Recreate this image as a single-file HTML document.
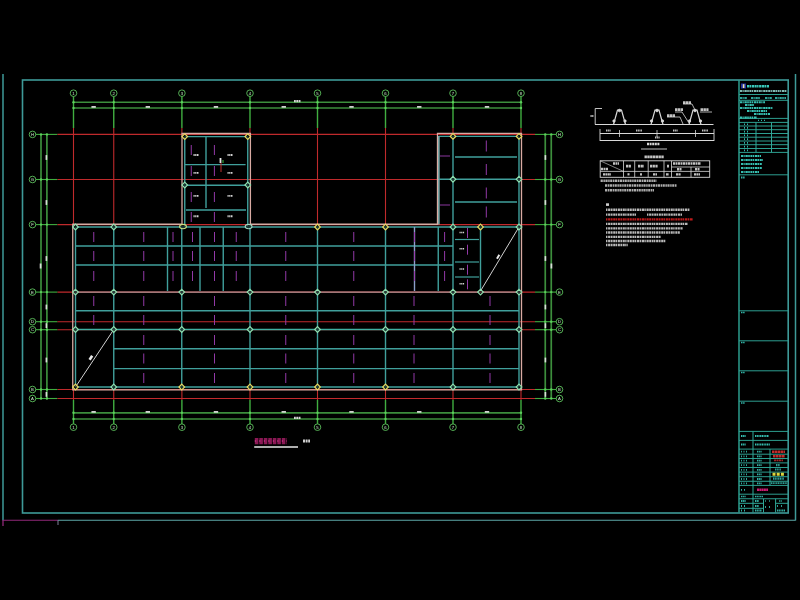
<!DOCTYPE html><html><head><meta charset="utf-8"><style>html,body{margin:0;padding:0;background:#000;width:800px;height:600px;overflow:hidden}svg{display:block;filter:blur(0.6px);font-family:"Liberation Sans",sans-serif}</style></head><body>
<svg width="800" height="600" viewBox="0 0 800 600">
<rect x="0" y="0" width="800" height="600" fill="#000"/>
<line x1="3" y1="74" x2="3" y2="520.5" stroke="#3e9a98" stroke-width="1.5" />
<line x1="795.5" y1="74" x2="795.5" y2="520.5" stroke="#3e9a98" stroke-width="1.5" />
<line x1="3" y1="520.3" x2="58" y2="520.3" stroke="#902878" stroke-width="1.1" />
<line x1="58" y1="520.3" x2="795.5" y2="520.3" stroke="#5ea8a8" stroke-width="1.1" />
<line x1="58" y1="520.3" x2="58" y2="525" stroke="#a0a0c0" stroke-width="0.8" />
<line x1="3" y1="520" x2="3" y2="526" stroke="#902878" stroke-width="1.3" />
<rect x="22.5" y="80" width="765.7" height="433" stroke="#3e9a98" stroke-width="1.6" fill="none"/>
<line x1="73.5" y1="96.5" x2="73.5" y2="128" stroke="#40ae40" stroke-width="1.4" />
<line x1="73.5" y1="128" x2="73.5" y2="224.25" stroke="#c02a2c" stroke-width="1.1" />
<line x1="73.5" y1="389.5" x2="73.5" y2="400" stroke="#c02a2c" stroke-width="1.1" />
<line x1="73.5" y1="400" x2="73.5" y2="423.9" stroke="#40ae40" stroke-width="1.4" />
<circle cx="73.5" cy="93.2" r="3.3" stroke="#5cc05c" stroke-width="0.9" fill="none"/>
<circle cx="73.5" cy="427.2" r="3.3" stroke="#5cc05c" stroke-width="0.9" fill="none"/>
<text x="73.5" y="94.7" fill="#d0f0d0" font-size="4.2" text-anchor="middle" >1</text>
<text x="73.5" y="428.7" fill="#d0f0d0" font-size="4.2" text-anchor="middle" >1</text>
<line x1="113.75" y1="96.5" x2="113.75" y2="128" stroke="#40ae40" stroke-width="1.4" />
<line x1="113.75" y1="128" x2="113.75" y2="224.25" stroke="#c02a2c" stroke-width="1.1" />
<line x1="113.75" y1="389.5" x2="113.75" y2="400" stroke="#c02a2c" stroke-width="1.1" />
<line x1="113.75" y1="400" x2="113.75" y2="423.9" stroke="#40ae40" stroke-width="1.4" />
<circle cx="113.75" cy="93.2" r="3.3" stroke="#5cc05c" stroke-width="0.9" fill="none"/>
<circle cx="113.75" cy="427.2" r="3.3" stroke="#5cc05c" stroke-width="0.9" fill="none"/>
<text x="113.75" y="94.7" fill="#d0f0d0" font-size="4.2" text-anchor="middle" >2</text>
<text x="113.75" y="428.7" fill="#d0f0d0" font-size="4.2" text-anchor="middle" >2</text>
<line x1="181.9" y1="96.5" x2="181.9" y2="128" stroke="#40ae40" stroke-width="1.4" />
<line x1="181.9" y1="128" x2="181.9" y2="133.5" stroke="#c02a2c" stroke-width="1.1" />
<line x1="181.9" y1="389.5" x2="181.9" y2="400" stroke="#c02a2c" stroke-width="1.1" />
<line x1="181.9" y1="400" x2="181.9" y2="423.9" stroke="#40ae40" stroke-width="1.4" />
<circle cx="181.9" cy="93.2" r="3.3" stroke="#5cc05c" stroke-width="0.9" fill="none"/>
<circle cx="181.9" cy="427.2" r="3.3" stroke="#5cc05c" stroke-width="0.9" fill="none"/>
<text x="181.9" y="94.7" fill="#d0f0d0" font-size="4.2" text-anchor="middle" >3</text>
<text x="181.9" y="428.7" fill="#d0f0d0" font-size="4.2" text-anchor="middle" >3</text>
<line x1="250" y1="96.5" x2="250" y2="128" stroke="#40ae40" stroke-width="1.4" />
<line x1="250" y1="128" x2="250" y2="133.5" stroke="#c02a2c" stroke-width="1.1" />
<line x1="250" y1="389.5" x2="250" y2="400" stroke="#c02a2c" stroke-width="1.1" />
<line x1="250" y1="400" x2="250" y2="423.9" stroke="#40ae40" stroke-width="1.4" />
<circle cx="250" cy="93.2" r="3.3" stroke="#5cc05c" stroke-width="0.9" fill="none"/>
<circle cx="250" cy="427.2" r="3.3" stroke="#5cc05c" stroke-width="0.9" fill="none"/>
<text x="250" y="94.7" fill="#d0f0d0" font-size="4.2" text-anchor="middle" >4</text>
<text x="250" y="428.7" fill="#d0f0d0" font-size="4.2" text-anchor="middle" >4</text>
<line x1="317.5" y1="96.5" x2="317.5" y2="128" stroke="#40ae40" stroke-width="1.4" />
<line x1="317.5" y1="128" x2="317.5" y2="224.25" stroke="#c02a2c" stroke-width="1.1" />
<line x1="317.5" y1="389.5" x2="317.5" y2="400" stroke="#c02a2c" stroke-width="1.1" />
<line x1="317.5" y1="400" x2="317.5" y2="423.9" stroke="#40ae40" stroke-width="1.4" />
<circle cx="317.5" cy="93.2" r="3.3" stroke="#5cc05c" stroke-width="0.9" fill="none"/>
<circle cx="317.5" cy="427.2" r="3.3" stroke="#5cc05c" stroke-width="0.9" fill="none"/>
<text x="317.5" y="94.7" fill="#d0f0d0" font-size="4.2" text-anchor="middle" >5</text>
<text x="317.5" y="428.7" fill="#d0f0d0" font-size="4.2" text-anchor="middle" >5</text>
<line x1="385.5" y1="96.5" x2="385.5" y2="128" stroke="#40ae40" stroke-width="1.4" />
<line x1="385.5" y1="128" x2="385.5" y2="224.25" stroke="#c02a2c" stroke-width="1.1" />
<line x1="385.5" y1="389.5" x2="385.5" y2="400" stroke="#c02a2c" stroke-width="1.1" />
<line x1="385.5" y1="400" x2="385.5" y2="423.9" stroke="#40ae40" stroke-width="1.4" />
<circle cx="385.5" cy="93.2" r="3.3" stroke="#5cc05c" stroke-width="0.9" fill="none"/>
<circle cx="385.5" cy="427.2" r="3.3" stroke="#5cc05c" stroke-width="0.9" fill="none"/>
<text x="385.5" y="94.7" fill="#d0f0d0" font-size="4.2" text-anchor="middle" >6</text>
<text x="385.5" y="428.7" fill="#d0f0d0" font-size="4.2" text-anchor="middle" >6</text>
<line x1="453" y1="96.5" x2="453" y2="128" stroke="#40ae40" stroke-width="1.4" />
<line x1="453" y1="128" x2="453" y2="133.5" stroke="#c02a2c" stroke-width="1.1" />
<line x1="453" y1="389.5" x2="453" y2="400" stroke="#c02a2c" stroke-width="1.1" />
<line x1="453" y1="400" x2="453" y2="423.9" stroke="#40ae40" stroke-width="1.4" />
<circle cx="453" cy="93.2" r="3.3" stroke="#5cc05c" stroke-width="0.9" fill="none"/>
<circle cx="453" cy="427.2" r="3.3" stroke="#5cc05c" stroke-width="0.9" fill="none"/>
<text x="453" y="94.7" fill="#d0f0d0" font-size="4.2" text-anchor="middle" >7</text>
<text x="453" y="428.7" fill="#d0f0d0" font-size="4.2" text-anchor="middle" >7</text>
<line x1="521" y1="96.5" x2="521" y2="128" stroke="#40ae40" stroke-width="1.4" />
<line x1="521" y1="128" x2="521" y2="133.5" stroke="#c02a2c" stroke-width="1.1" />
<line x1="521" y1="389.5" x2="521" y2="400" stroke="#c02a2c" stroke-width="1.1" />
<line x1="521" y1="400" x2="521" y2="423.9" stroke="#40ae40" stroke-width="1.4" />
<circle cx="521" cy="93.2" r="3.3" stroke="#5cc05c" stroke-width="0.9" fill="none"/>
<circle cx="521" cy="427.2" r="3.3" stroke="#5cc05c" stroke-width="0.9" fill="none"/>
<text x="521" y="94.7" fill="#d0f0d0" font-size="4.2" text-anchor="middle" >8</text>
<text x="521" y="428.7" fill="#d0f0d0" font-size="4.2" text-anchor="middle" >8</text>
<line x1="35.8" y1="134.4" x2="57.5" y2="134.4" stroke="#40ae40" stroke-width="1.1" />
<line x1="57.5" y1="134.4" x2="535" y2="134.4" stroke="#c02a2c" stroke-width="1.1" />
<line x1="535" y1="134.4" x2="556.2" y2="134.4" stroke="#40ae40" stroke-width="1.1" />
<circle cx="32.5" cy="134.4" r="3.3" stroke="#5cc05c" stroke-width="0.9" fill="none"/>
<circle cx="559.5" cy="134.4" r="3.3" stroke="#5cc05c" stroke-width="0.9" fill="none"/>
<text x="32.5" y="135.9" fill="#d0f0d0" font-size="4.2" text-anchor="middle" >H</text>
<text x="559.5" y="135.9" fill="#d0f0d0" font-size="4.2" text-anchor="middle" >H</text>
<line x1="35.8" y1="179.5" x2="57.5" y2="179.5" stroke="#40ae40" stroke-width="1.1" />
<line x1="57.5" y1="179.5" x2="535" y2="179.5" stroke="#c02a2c" stroke-width="1.1" />
<line x1="535" y1="179.5" x2="556.2" y2="179.5" stroke="#40ae40" stroke-width="1.1" />
<circle cx="32.5" cy="179.5" r="3.3" stroke="#5cc05c" stroke-width="0.9" fill="none"/>
<circle cx="559.5" cy="179.5" r="3.3" stroke="#5cc05c" stroke-width="0.9" fill="none"/>
<text x="32.5" y="181.0" fill="#d0f0d0" font-size="4.2" text-anchor="middle" >G</text>
<text x="559.5" y="181.0" fill="#d0f0d0" font-size="4.2" text-anchor="middle" >G</text>
<line x1="35.8" y1="224.6" x2="57.5" y2="224.6" stroke="#40ae40" stroke-width="1.1" />
<line x1="57.5" y1="224.6" x2="535" y2="224.6" stroke="#c02a2c" stroke-width="1.1" />
<line x1="535" y1="224.6" x2="556.2" y2="224.6" stroke="#40ae40" stroke-width="1.1" />
<circle cx="32.5" cy="224.6" r="3.3" stroke="#5cc05c" stroke-width="0.9" fill="none"/>
<circle cx="559.5" cy="224.6" r="3.3" stroke="#5cc05c" stroke-width="0.9" fill="none"/>
<text x="32.5" y="226.1" fill="#d0f0d0" font-size="4.2" text-anchor="middle" >F</text>
<text x="559.5" y="226.1" fill="#d0f0d0" font-size="4.2" text-anchor="middle" >F</text>
<line x1="35.8" y1="292.1" x2="57.5" y2="292.1" stroke="#40ae40" stroke-width="1.1" />
<line x1="57.5" y1="292.1" x2="535" y2="292.1" stroke="#c02a2c" stroke-width="1.1" />
<line x1="535" y1="292.1" x2="556.2" y2="292.1" stroke="#40ae40" stroke-width="1.1" />
<circle cx="32.5" cy="292.1" r="3.3" stroke="#5cc05c" stroke-width="0.9" fill="none"/>
<circle cx="559.5" cy="292.1" r="3.3" stroke="#5cc05c" stroke-width="0.9" fill="none"/>
<text x="32.5" y="293.6" fill="#d0f0d0" font-size="4.2" text-anchor="middle" >E</text>
<text x="559.5" y="293.6" fill="#d0f0d0" font-size="4.2" text-anchor="middle" >E</text>
<line x1="35.8" y1="321.7" x2="57.5" y2="321.7" stroke="#40ae40" stroke-width="1.1" />
<line x1="57.5" y1="321.7" x2="535" y2="321.7" stroke="#c02a2c" stroke-width="1.1" />
<line x1="535" y1="321.7" x2="556.2" y2="321.7" stroke="#40ae40" stroke-width="1.1" />
<circle cx="32.5" cy="321.7" r="3.3" stroke="#5cc05c" stroke-width="0.9" fill="none"/>
<circle cx="559.5" cy="321.7" r="3.3" stroke="#5cc05c" stroke-width="0.9" fill="none"/>
<text x="32.5" y="323.2" fill="#d0f0d0" font-size="4.2" text-anchor="middle" >D</text>
<text x="559.5" y="323.2" fill="#d0f0d0" font-size="4.2" text-anchor="middle" >D</text>
<line x1="35.8" y1="329.7" x2="57.5" y2="329.7" stroke="#40ae40" stroke-width="1.1" />
<line x1="57.5" y1="329.7" x2="535" y2="329.7" stroke="#c02a2c" stroke-width="1.1" />
<line x1="535" y1="329.7" x2="556.2" y2="329.7" stroke="#40ae40" stroke-width="1.1" />
<circle cx="32.5" cy="329.7" r="3.3" stroke="#5cc05c" stroke-width="0.9" fill="none"/>
<circle cx="559.5" cy="329.7" r="3.3" stroke="#5cc05c" stroke-width="0.9" fill="none"/>
<text x="32.5" y="331.2" fill="#d0f0d0" font-size="4.2" text-anchor="middle" >C</text>
<text x="559.5" y="331.2" fill="#d0f0d0" font-size="4.2" text-anchor="middle" >C</text>
<line x1="35.8" y1="389.5" x2="57.5" y2="389.5" stroke="#40ae40" stroke-width="1.1" />
<line x1="57.5" y1="389.5" x2="535" y2="389.5" stroke="#c02a2c" stroke-width="1.1" />
<line x1="535" y1="389.5" x2="556.2" y2="389.5" stroke="#40ae40" stroke-width="1.1" />
<circle cx="32.5" cy="389.5" r="3.3" stroke="#5cc05c" stroke-width="0.9" fill="none"/>
<circle cx="559.5" cy="389.5" r="3.3" stroke="#5cc05c" stroke-width="0.9" fill="none"/>
<text x="32.5" y="391.0" fill="#d0f0d0" font-size="4.2" text-anchor="middle" >B</text>
<text x="559.5" y="391.0" fill="#d0f0d0" font-size="4.2" text-anchor="middle" >B</text>
<line x1="35.8" y1="398.5" x2="57.5" y2="398.5" stroke="#40ae40" stroke-width="1.1" />
<line x1="57.5" y1="398.5" x2="535" y2="398.5" stroke="#c02a2c" stroke-width="1.1" />
<line x1="535" y1="398.5" x2="556.2" y2="398.5" stroke="#40ae40" stroke-width="1.1" />
<circle cx="32.5" cy="398.5" r="3.3" stroke="#5cc05c" stroke-width="0.9" fill="none"/>
<circle cx="559.5" cy="398.5" r="3.3" stroke="#5cc05c" stroke-width="0.9" fill="none"/>
<text x="32.5" y="400.0" fill="#d0f0d0" font-size="4.2" text-anchor="middle" >A</text>
<text x="559.5" y="400.0" fill="#d0f0d0" font-size="4.2" text-anchor="middle" >A</text>
<line x1="73.5" y1="102.25" x2="521" y2="102.25" stroke="#3c8e3c" stroke-width="1.7" />
<line x1="73.5" y1="108" x2="521" y2="108" stroke="#3c8e3c" stroke-width="1.7" />
<line x1="73.5" y1="412.8" x2="521" y2="412.8" stroke="#3c8e3c" stroke-width="1.7" />
<line x1="73.5" y1="419" x2="521" y2="419" stroke="#3c8e3c" stroke-width="1.7" />
<line x1="41" y1="134.4" x2="41" y2="398.5" stroke="#3c8e3c" stroke-width="1.7" />
<line x1="46.9" y1="134.4" x2="46.9" y2="398.5" stroke="#3c8e3c" stroke-width="1.7" />
<line x1="545.25" y1="134.4" x2="545.25" y2="398.5" stroke="#3c8e3c" stroke-width="1.7" />
<line x1="551.25" y1="134.4" x2="551.25" y2="398.5" stroke="#3c8e3c" stroke-width="1.7" />
<circle cx="73.5" cy="102.25" r="1.2" fill="#5cd05c"/>
<circle cx="73.5" cy="108" r="1.2" fill="#5cd05c"/>
<circle cx="73.5" cy="412.8" r="1.2" fill="#5cd05c"/>
<circle cx="73.5" cy="419" r="1.2" fill="#5cd05c"/>
<circle cx="113.75" cy="102.25" r="1.2" fill="#5cd05c"/>
<circle cx="113.75" cy="108" r="1.2" fill="#5cd05c"/>
<circle cx="113.75" cy="412.8" r="1.2" fill="#5cd05c"/>
<circle cx="113.75" cy="419" r="1.2" fill="#5cd05c"/>
<circle cx="181.9" cy="102.25" r="1.2" fill="#5cd05c"/>
<circle cx="181.9" cy="108" r="1.2" fill="#5cd05c"/>
<circle cx="181.9" cy="412.8" r="1.2" fill="#5cd05c"/>
<circle cx="181.9" cy="419" r="1.2" fill="#5cd05c"/>
<circle cx="250" cy="102.25" r="1.2" fill="#5cd05c"/>
<circle cx="250" cy="108" r="1.2" fill="#5cd05c"/>
<circle cx="250" cy="412.8" r="1.2" fill="#5cd05c"/>
<circle cx="250" cy="419" r="1.2" fill="#5cd05c"/>
<circle cx="317.5" cy="102.25" r="1.2" fill="#5cd05c"/>
<circle cx="317.5" cy="108" r="1.2" fill="#5cd05c"/>
<circle cx="317.5" cy="412.8" r="1.2" fill="#5cd05c"/>
<circle cx="317.5" cy="419" r="1.2" fill="#5cd05c"/>
<circle cx="385.5" cy="102.25" r="1.2" fill="#5cd05c"/>
<circle cx="385.5" cy="108" r="1.2" fill="#5cd05c"/>
<circle cx="385.5" cy="412.8" r="1.2" fill="#5cd05c"/>
<circle cx="385.5" cy="419" r="1.2" fill="#5cd05c"/>
<circle cx="453" cy="102.25" r="1.2" fill="#5cd05c"/>
<circle cx="453" cy="108" r="1.2" fill="#5cd05c"/>
<circle cx="453" cy="412.8" r="1.2" fill="#5cd05c"/>
<circle cx="453" cy="419" r="1.2" fill="#5cd05c"/>
<circle cx="521" cy="102.25" r="1.2" fill="#5cd05c"/>
<circle cx="521" cy="108" r="1.2" fill="#5cd05c"/>
<circle cx="521" cy="412.8" r="1.2" fill="#5cd05c"/>
<circle cx="521" cy="419" r="1.2" fill="#5cd05c"/>
<circle cx="41" cy="134.4" r="1.2" fill="#5cd05c"/>
<circle cx="46.9" cy="134.4" r="1.2" fill="#5cd05c"/>
<circle cx="545.25" cy="134.4" r="1.2" fill="#5cd05c"/>
<circle cx="551.25" cy="134.4" r="1.2" fill="#5cd05c"/>
<circle cx="41" cy="179.5" r="1.2" fill="#5cd05c"/>
<circle cx="46.9" cy="179.5" r="1.2" fill="#5cd05c"/>
<circle cx="545.25" cy="179.5" r="1.2" fill="#5cd05c"/>
<circle cx="551.25" cy="179.5" r="1.2" fill="#5cd05c"/>
<circle cx="41" cy="224.6" r="1.2" fill="#5cd05c"/>
<circle cx="46.9" cy="224.6" r="1.2" fill="#5cd05c"/>
<circle cx="545.25" cy="224.6" r="1.2" fill="#5cd05c"/>
<circle cx="551.25" cy="224.6" r="1.2" fill="#5cd05c"/>
<circle cx="41" cy="292.1" r="1.2" fill="#5cd05c"/>
<circle cx="46.9" cy="292.1" r="1.2" fill="#5cd05c"/>
<circle cx="545.25" cy="292.1" r="1.2" fill="#5cd05c"/>
<circle cx="551.25" cy="292.1" r="1.2" fill="#5cd05c"/>
<circle cx="41" cy="321.7" r="1.2" fill="#5cd05c"/>
<circle cx="46.9" cy="321.7" r="1.2" fill="#5cd05c"/>
<circle cx="545.25" cy="321.7" r="1.2" fill="#5cd05c"/>
<circle cx="551.25" cy="321.7" r="1.2" fill="#5cd05c"/>
<circle cx="41" cy="329.7" r="1.2" fill="#5cd05c"/>
<circle cx="46.9" cy="329.7" r="1.2" fill="#5cd05c"/>
<circle cx="545.25" cy="329.7" r="1.2" fill="#5cd05c"/>
<circle cx="551.25" cy="329.7" r="1.2" fill="#5cd05c"/>
<circle cx="41" cy="389.5" r="1.2" fill="#5cd05c"/>
<circle cx="46.9" cy="389.5" r="1.2" fill="#5cd05c"/>
<circle cx="545.25" cy="389.5" r="1.2" fill="#5cd05c"/>
<circle cx="551.25" cy="389.5" r="1.2" fill="#5cd05c"/>
<circle cx="41" cy="398.5" r="1.2" fill="#5cd05c"/>
<circle cx="46.9" cy="398.5" r="1.2" fill="#5cd05c"/>
<circle cx="545.25" cy="398.5" r="1.2" fill="#5cd05c"/>
<circle cx="551.25" cy="398.5" r="1.2" fill="#5cd05c"/>
<polygon points="72.75,224.25 182,224.25 182,133.5 250.4,133.5 250.4,224.25 437.5,224.25 437.5,133.4 521.5,133.4 521.5,389.9 72.75,389.9" fill="none" stroke="#d8aaa2" stroke-width="1.3"/>
<line x1="75.5" y1="227" x2="519" y2="227" stroke="#40a09c" stroke-width="1.4" />
<line x1="75.5" y1="246" x2="453" y2="246" stroke="#40a09c" stroke-width="1.4" />
<line x1="75.5" y1="265" x2="453" y2="265" stroke="#40a09c" stroke-width="1.4" />
<line x1="75.5" y1="292.1" x2="519" y2="292.1" stroke="#a89494" stroke-width="1.3" />
<line x1="75.5" y1="310.75" x2="519" y2="310.75" stroke="#40a09c" stroke-width="1.4" />
<line x1="75.5" y1="329.5" x2="519" y2="329.5" stroke="#40b0a0" stroke-width="1.4" />
<line x1="113.75" y1="348.75" x2="519" y2="348.75" stroke="#40a09c" stroke-width="1.4" />
<line x1="113.75" y1="368.6" x2="519" y2="368.6" stroke="#40a09c" stroke-width="1.4" />
<line x1="75.5" y1="387" x2="519" y2="387" stroke="#40a09c" stroke-width="1.4" />
<line x1="455" y1="239.5" x2="479" y2="239.5" stroke="#40a09c" stroke-width="1.2" />
<line x1="455" y1="262" x2="479" y2="262" stroke="#40a09c" stroke-width="1.2" />
<line x1="455" y1="277" x2="479" y2="277" stroke="#40a09c" stroke-width="1.2" />
<line x1="75.5" y1="227" x2="75.5" y2="387" stroke="#40a09c" stroke-width="1.4" />
<line x1="113.75" y1="227" x2="113.75" y2="387" stroke="#40a09c" stroke-width="1.4" />
<line x1="167.5" y1="227" x2="167.5" y2="291" stroke="#40a09c" stroke-width="1.4" />
<line x1="181.75" y1="227" x2="181.75" y2="387" stroke="#40a09c" stroke-width="1.4" />
<line x1="200" y1="227" x2="200" y2="291" stroke="#40a09c" stroke-width="1.4" />
<line x1="223.25" y1="227" x2="223.25" y2="291" stroke="#40a09c" stroke-width="1.4" />
<line x1="250" y1="227" x2="250" y2="387" stroke="#40a09c" stroke-width="1.4" />
<line x1="317.5" y1="227" x2="317.5" y2="387" stroke="#40a09c" stroke-width="1.4" />
<line x1="385.5" y1="227" x2="385.5" y2="387" stroke="#40a09c" stroke-width="1.4" />
<line x1="414.5" y1="227" x2="414.5" y2="291" stroke="#8aa0c8" stroke-width="1.4" />
<line x1="438.25" y1="227" x2="438.25" y2="291" stroke="#40a09c" stroke-width="1.4" />
<line x1="453" y1="136.4" x2="453" y2="387" stroke="#40a09c" stroke-width="1.4" />
<line x1="480.5" y1="227" x2="480.5" y2="291" stroke="#40a09c" stroke-width="1.4" />
<line x1="519" y1="136.4" x2="519" y2="387" stroke="#40a09c" stroke-width="1.4" />
<line x1="184.75" y1="136.6" x2="247.75" y2="136.6" stroke="#40a09c" stroke-width="1.4" />
<line x1="184.75" y1="136.6" x2="184.75" y2="227" stroke="#40a09c" stroke-width="1.4" />
<line x1="247.75" y1="136.6" x2="247.75" y2="227" stroke="#40a09c" stroke-width="1.4" />
<line x1="184.75" y1="164.6" x2="245.6" y2="164.6" stroke="#40a09c" stroke-width="1.4" />
<line x1="184.75" y1="185.25" x2="247.75" y2="185.25" stroke="#40a09c" stroke-width="1.4" />
<line x1="186" y1="210" x2="246" y2="210" stroke="#40a09c" stroke-width="1.4" />
<line x1="206" y1="136.6" x2="206" y2="208" stroke="#40a09c" stroke-width="1.4" />
<line x1="438.9" y1="136" x2="438.9" y2="224.5" stroke="#a0e0e0" stroke-width="1.2" />
<line x1="438.9" y1="136.4" x2="519" y2="136.4" stroke="#40a09c" stroke-width="1.4" />
<line x1="455" y1="157" x2="517" y2="157" stroke="#40a09c" stroke-width="1.4" />
<line x1="438.9" y1="179.25" x2="519" y2="179.25" stroke="#40a09c" stroke-width="1.4" />
<line x1="455" y1="202" x2="517" y2="202" stroke="#40a09c" stroke-width="1.4" />
<line x1="75.5" y1="387" x2="113.75" y2="329.5" stroke="#d0d0d0" stroke-width="1.0" />
<line x1="480.5" y1="291" x2="519" y2="227" stroke="#d0d0d0" stroke-width="1.0" />
<line x1="93.75" y1="232.0" x2="93.75" y2="242.0" stroke="#9a3cb0" stroke-width="0.95" />
<line x1="93.75" y1="251.0" x2="93.75" y2="261.0" stroke="#9a3cb0" stroke-width="0.95" />
<line x1="93.75" y1="271.0" x2="93.75" y2="281.0" stroke="#9a3cb0" stroke-width="0.95" />
<line x1="143.75" y1="232.0" x2="143.75" y2="242.0" stroke="#9a3cb0" stroke-width="0.95" />
<line x1="143.75" y1="251.0" x2="143.75" y2="261.0" stroke="#9a3cb0" stroke-width="0.95" />
<line x1="143.75" y1="271.0" x2="143.75" y2="281.0" stroke="#9a3cb0" stroke-width="0.95" />
<line x1="173" y1="232.0" x2="173" y2="242.0" stroke="#9a3cb0" stroke-width="0.95" />
<line x1="173" y1="251.0" x2="173" y2="261.0" stroke="#9a3cb0" stroke-width="0.95" />
<line x1="173" y1="271.0" x2="173" y2="281.0" stroke="#9a3cb0" stroke-width="0.95" />
<line x1="192.5" y1="232.0" x2="192.5" y2="242.0" stroke="#9a3cb0" stroke-width="0.95" />
<line x1="192.5" y1="251.0" x2="192.5" y2="261.0" stroke="#9a3cb0" stroke-width="0.95" />
<line x1="192.5" y1="271.0" x2="192.5" y2="281.0" stroke="#9a3cb0" stroke-width="0.95" />
<line x1="214.5" y1="232.0" x2="214.5" y2="242.0" stroke="#9a3cb0" stroke-width="0.95" />
<line x1="214.5" y1="251.0" x2="214.5" y2="261.0" stroke="#9a3cb0" stroke-width="0.95" />
<line x1="214.5" y1="271.0" x2="214.5" y2="281.0" stroke="#9a3cb0" stroke-width="0.95" />
<line x1="236.25" y1="232.0" x2="236.25" y2="242.0" stroke="#9a3cb0" stroke-width="0.95" />
<line x1="236.25" y1="251.0" x2="236.25" y2="261.0" stroke="#9a3cb0" stroke-width="0.95" />
<line x1="236.25" y1="271.0" x2="236.25" y2="281.0" stroke="#9a3cb0" stroke-width="0.95" />
<line x1="285.75" y1="232.0" x2="285.75" y2="242.0" stroke="#9a3cb0" stroke-width="0.95" />
<line x1="285.75" y1="251.0" x2="285.75" y2="261.0" stroke="#9a3cb0" stroke-width="0.95" />
<line x1="285.75" y1="271.0" x2="285.75" y2="281.0" stroke="#9a3cb0" stroke-width="0.95" />
<line x1="353.75" y1="232.0" x2="353.75" y2="242.0" stroke="#9a3cb0" stroke-width="0.95" />
<line x1="353.75" y1="251.0" x2="353.75" y2="261.0" stroke="#9a3cb0" stroke-width="0.95" />
<line x1="353.75" y1="271.0" x2="353.75" y2="281.0" stroke="#9a3cb0" stroke-width="0.95" />
<line x1="414.5" y1="232.0" x2="414.5" y2="242.0" stroke="#9a3cb0" stroke-width="0.95" />
<line x1="414.5" y1="251.0" x2="414.5" y2="261.0" stroke="#9a3cb0" stroke-width="0.95" />
<line x1="414.5" y1="271.0" x2="414.5" y2="281.0" stroke="#9a3cb0" stroke-width="0.95" />
<line x1="444.6" y1="232.0" x2="444.6" y2="242.0" stroke="#9a3cb0" stroke-width="0.95" />
<line x1="444.6" y1="251.0" x2="444.6" y2="261.0" stroke="#9a3cb0" stroke-width="0.95" />
<line x1="444.6" y1="271.0" x2="444.6" y2="281.0" stroke="#9a3cb0" stroke-width="0.95" />
<line x1="93.75" y1="296.0" x2="93.75" y2="306.0" stroke="#9a3cb0" stroke-width="0.95" />
<line x1="93.75" y1="315.0" x2="93.75" y2="325.0" stroke="#9a3cb0" stroke-width="0.95" />
<line x1="143.75" y1="296.0" x2="143.75" y2="306.0" stroke="#9a3cb0" stroke-width="0.95" />
<line x1="143.75" y1="315.0" x2="143.75" y2="325.0" stroke="#9a3cb0" stroke-width="0.95" />
<line x1="214.5" y1="296.0" x2="214.5" y2="306.0" stroke="#9a3cb0" stroke-width="0.95" />
<line x1="214.5" y1="315.0" x2="214.5" y2="325.0" stroke="#9a3cb0" stroke-width="0.95" />
<line x1="285.75" y1="296.0" x2="285.75" y2="306.0" stroke="#9a3cb0" stroke-width="0.95" />
<line x1="285.75" y1="315.0" x2="285.75" y2="325.0" stroke="#9a3cb0" stroke-width="0.95" />
<line x1="353.75" y1="296.0" x2="353.75" y2="306.0" stroke="#9a3cb0" stroke-width="0.95" />
<line x1="353.75" y1="315.0" x2="353.75" y2="325.0" stroke="#9a3cb0" stroke-width="0.95" />
<line x1="414" y1="296.0" x2="414" y2="306.0" stroke="#9a3cb0" stroke-width="0.95" />
<line x1="414" y1="315.0" x2="414" y2="325.0" stroke="#9a3cb0" stroke-width="0.95" />
<line x1="490" y1="296.0" x2="490" y2="306.0" stroke="#9a3cb0" stroke-width="0.95" />
<line x1="490" y1="315.0" x2="490" y2="325.0" stroke="#9a3cb0" stroke-width="0.95" />
<line x1="143.75" y1="335.0" x2="143.75" y2="345.0" stroke="#9a3cb0" stroke-width="0.95" />
<line x1="143.75" y1="353.5" x2="143.75" y2="363.5" stroke="#9a3cb0" stroke-width="0.95" />
<line x1="143.75" y1="373.0" x2="143.75" y2="383.0" stroke="#9a3cb0" stroke-width="0.95" />
<line x1="214.5" y1="335.0" x2="214.5" y2="345.0" stroke="#9a3cb0" stroke-width="0.95" />
<line x1="214.5" y1="353.5" x2="214.5" y2="363.5" stroke="#9a3cb0" stroke-width="0.95" />
<line x1="214.5" y1="373.0" x2="214.5" y2="383.0" stroke="#9a3cb0" stroke-width="0.95" />
<line x1="285.75" y1="335.0" x2="285.75" y2="345.0" stroke="#9a3cb0" stroke-width="0.95" />
<line x1="285.75" y1="353.5" x2="285.75" y2="363.5" stroke="#9a3cb0" stroke-width="0.95" />
<line x1="285.75" y1="373.0" x2="285.75" y2="383.0" stroke="#9a3cb0" stroke-width="0.95" />
<line x1="353.75" y1="335.0" x2="353.75" y2="345.0" stroke="#9a3cb0" stroke-width="0.95" />
<line x1="353.75" y1="353.5" x2="353.75" y2="363.5" stroke="#9a3cb0" stroke-width="0.95" />
<line x1="353.75" y1="373.0" x2="353.75" y2="383.0" stroke="#9a3cb0" stroke-width="0.95" />
<line x1="414" y1="335.0" x2="414" y2="345.0" stroke="#9a3cb0" stroke-width="0.95" />
<line x1="414" y1="353.5" x2="414" y2="363.5" stroke="#9a3cb0" stroke-width="0.95" />
<line x1="414" y1="373.0" x2="414" y2="383.0" stroke="#9a3cb0" stroke-width="0.95" />
<line x1="490" y1="335.0" x2="490" y2="345.0" stroke="#9a3cb0" stroke-width="0.95" />
<line x1="490" y1="353.5" x2="490" y2="363.5" stroke="#9a3cb0" stroke-width="0.95" />
<line x1="490" y1="373.0" x2="490" y2="383.0" stroke="#9a3cb0" stroke-width="0.95" />
<line x1="191.25" y1="145.0" x2="191.25" y2="155.0" stroke="#9a3cb0" stroke-width="0.95" />
<line x1="214.4" y1="145.0" x2="214.4" y2="155.0" stroke="#9a3cb0" stroke-width="0.95" />
<line x1="191.25" y1="166.0" x2="191.25" y2="176.0" stroke="#9a3cb0" stroke-width="0.95" />
<line x1="214.4" y1="166.0" x2="214.4" y2="176.0" stroke="#9a3cb0" stroke-width="0.95" />
<line x1="191.25" y1="192.0" x2="191.25" y2="202.0" stroke="#9a3cb0" stroke-width="0.95" />
<line x1="214.4" y1="192.0" x2="214.4" y2="202.0" stroke="#9a3cb0" stroke-width="0.95" />
<line x1="191.25" y1="212.0" x2="191.25" y2="222.0" stroke="#9a3cb0" stroke-width="0.95" />
<line x1="214.4" y1="212.0" x2="214.4" y2="222.0" stroke="#9a3cb0" stroke-width="0.95" />
<line x1="486.3" y1="140.5" x2="486.3" y2="151.5" stroke="#9a3cb0" stroke-width="0.95" />
<line x1="486.3" y1="164.0" x2="486.3" y2="175.0" stroke="#9a3cb0" stroke-width="0.95" />
<line x1="486.3" y1="187.5" x2="486.3" y2="198.5" stroke="#9a3cb0" stroke-width="0.95" />
<line x1="486.3" y1="206.5" x2="486.3" y2="217.5" stroke="#9a3cb0" stroke-width="0.95" />
<line x1="440" y1="156" x2="450" y2="156" stroke="#9a3cb0" stroke-width="0.9" />
<line x1="440" y1="205" x2="450" y2="205" stroke="#9a3cb0" stroke-width="0.9" />
<line x1="467.5" y1="228.0" x2="467.5" y2="238.0" stroke="#9a3cb0" stroke-width="0.95" />
<line x1="467.5" y1="244.7" x2="467.5" y2="254.7" stroke="#9a3cb0" stroke-width="0.95" />
<line x1="467.5" y1="264.7" x2="467.5" y2="274.7" stroke="#9a3cb0" stroke-width="0.95" />
<line x1="467.5" y1="279.3" x2="467.5" y2="289.3" stroke="#9a3cb0" stroke-width="0.95" />
<polygon points="184.75,133.79999999999998 187.55,136.6 184.75,139.4 181.95,136.6" fill="#000" fill-opacity="0.6" stroke="#e8d860" stroke-width="1.2"/>
<polygon points="247.75,133.79999999999998 250.55,136.6 247.75,139.4 244.95,136.6" fill="#000" fill-opacity="0.6" stroke="#e8d860" stroke-width="1.2"/>
<polygon points="453,133.6 455.8,136.4 453,139.20000000000002 450.2,136.4" fill="#000" fill-opacity="0.6" stroke="#e8d860" stroke-width="1.2"/>
<polygon points="519,133.6 521.8,136.4 519,139.20000000000002 516.2,136.4" fill="#000" fill-opacity="0.6" stroke="#e8d860" stroke-width="1.2"/>
<polygon points="184.75,182.2 187.55,185 184.75,187.8 181.95,185" fill="#000" fill-opacity="0.6" stroke="#90e0b0" stroke-width="1.2"/>
<polygon points="247.75,182.2 250.55,185 247.75,187.8 244.95,185" fill="#000" fill-opacity="0.6" stroke="#90e0b0" stroke-width="1.2"/>
<polygon points="453,176.45 455.8,179.25 453,182.05 450.2,179.25" fill="#000" fill-opacity="0.6" stroke="#90e0b0" stroke-width="1.2"/>
<polygon points="519,176.45 521.8,179.25 519,182.05 516.2,179.25" fill="#000" fill-opacity="0.6" stroke="#90e0b0" stroke-width="1.2"/>
<polygon points="75.5,224.2 78.3,227 75.5,229.8 72.7,227" fill="#000" fill-opacity="0.6" stroke="#90e0b0" stroke-width="1.2"/>
<polygon points="113.75,224.2 116.55,227 113.75,229.8 110.95,227" fill="#000" fill-opacity="0.6" stroke="#90e0b0" stroke-width="1.2"/>
<polygon points="453,224.2 455.8,227 453,229.8 450.2,227" fill="#000" fill-opacity="0.6" stroke="#90e0b0" stroke-width="1.2"/>
<polygon points="519,224.2 521.8,227 519,229.8 516.2,227" fill="#000" fill-opacity="0.6" stroke="#90e0b0" stroke-width="1.2"/>
<polygon points="317.5,224.2 320.3,227 317.5,229.8 314.7,227" fill="#000" fill-opacity="0.6" stroke="#e8d860" stroke-width="1.2"/>
<polygon points="385.5,224.2 388.3,227 385.5,229.8 382.7,227" fill="#000" fill-opacity="0.6" stroke="#e8d860" stroke-width="1.2"/>
<polygon points="480.5,224.2 483.3,227 480.5,229.8 477.7,227" fill="#000" fill-opacity="0.6" stroke="#e8d860" stroke-width="1.2"/>
<ellipse cx="183" cy="226.6" rx="3.4" ry="2.2" fill="#000" fill-opacity="0.6" stroke="#c8e080" stroke-width="1.1"/>
<ellipse cx="248.6" cy="226.6" rx="3.4" ry="2.2" fill="#000" fill-opacity="0.6" stroke="#a0d8c0" stroke-width="1.1"/>
<polygon points="75.5,289.3 78.3,292.1 75.5,294.90000000000003 72.7,292.1" fill="#000" fill-opacity="0.6" stroke="#90e0b0" stroke-width="1.2"/>
<polygon points="113.75,289.3 116.55,292.1 113.75,294.90000000000003 110.95,292.1" fill="#000" fill-opacity="0.6" stroke="#90e0b0" stroke-width="1.2"/>
<polygon points="181.75,289.3 184.55,292.1 181.75,294.90000000000003 178.95,292.1" fill="#000" fill-opacity="0.6" stroke="#90e0b0" stroke-width="1.2"/>
<polygon points="250,289.3 252.8,292.1 250,294.90000000000003 247.2,292.1" fill="#000" fill-opacity="0.6" stroke="#90e0b0" stroke-width="1.2"/>
<polygon points="317.5,289.3 320.3,292.1 317.5,294.90000000000003 314.7,292.1" fill="#000" fill-opacity="0.6" stroke="#90e0b0" stroke-width="1.2"/>
<polygon points="385.5,289.3 388.3,292.1 385.5,294.90000000000003 382.7,292.1" fill="#000" fill-opacity="0.6" stroke="#90e0b0" stroke-width="1.2"/>
<polygon points="453,289.3 455.8,292.1 453,294.90000000000003 450.2,292.1" fill="#000" fill-opacity="0.6" stroke="#90e0b0" stroke-width="1.2"/>
<polygon points="480.5,289.3 483.3,292.1 480.5,294.90000000000003 477.7,292.1" fill="#000" fill-opacity="0.6" stroke="#90e0b0" stroke-width="1.2"/>
<polygon points="519,289.3 521.8,292.1 519,294.90000000000003 516.2,292.1" fill="#000" fill-opacity="0.6" stroke="#90e0b0" stroke-width="1.2"/>
<polygon points="75.5,326.7 78.3,329.5 75.5,332.3 72.7,329.5" fill="#000" fill-opacity="0.6" stroke="#90e0b0" stroke-width="1.2"/>
<polygon points="75.5,384.2 78.3,387 75.5,389.8 72.7,387" fill="#000" fill-opacity="0.6" stroke="#e8d860" stroke-width="1.2"/>
<polygon points="113.75,326.7 116.55,329.5 113.75,332.3 110.95,329.5" fill="#000" fill-opacity="0.6" stroke="#90e0b0" stroke-width="1.2"/>
<polygon points="113.75,384.2 116.55,387 113.75,389.8 110.95,387" fill="#000" fill-opacity="0.6" stroke="#90e0b0" stroke-width="1.2"/>
<polygon points="181.75,326.7 184.55,329.5 181.75,332.3 178.95,329.5" fill="#000" fill-opacity="0.6" stroke="#90e0b0" stroke-width="1.2"/>
<polygon points="181.75,384.2 184.55,387 181.75,389.8 178.95,387" fill="#000" fill-opacity="0.6" stroke="#e8d860" stroke-width="1.2"/>
<polygon points="250,326.7 252.8,329.5 250,332.3 247.2,329.5" fill="#000" fill-opacity="0.6" stroke="#90e0b0" stroke-width="1.2"/>
<polygon points="250,384.2 252.8,387 250,389.8 247.2,387" fill="#000" fill-opacity="0.6" stroke="#e8d860" stroke-width="1.2"/>
<polygon points="317.5,326.7 320.3,329.5 317.5,332.3 314.7,329.5" fill="#000" fill-opacity="0.6" stroke="#90e0b0" stroke-width="1.2"/>
<polygon points="317.5,384.2 320.3,387 317.5,389.8 314.7,387" fill="#000" fill-opacity="0.6" stroke="#e8d860" stroke-width="1.2"/>
<polygon points="385.5,326.7 388.3,329.5 385.5,332.3 382.7,329.5" fill="#000" fill-opacity="0.6" stroke="#90e0b0" stroke-width="1.2"/>
<polygon points="385.5,384.2 388.3,387 385.5,389.8 382.7,387" fill="#000" fill-opacity="0.6" stroke="#e8d860" stroke-width="1.2"/>
<polygon points="453,326.7 455.8,329.5 453,332.3 450.2,329.5" fill="#000" fill-opacity="0.6" stroke="#90e0b0" stroke-width="1.2"/>
<polygon points="453,384.2 455.8,387 453,389.8 450.2,387" fill="#000" fill-opacity="0.6" stroke="#90e0b0" stroke-width="1.2"/>
<polygon points="519,326.7 521.8,329.5 519,332.3 516.2,329.5" fill="#000" fill-opacity="0.6" stroke="#90e0b0" stroke-width="1.2"/>
<polygon points="519,384.2 521.8,387 519,389.8 516.2,387" fill="#000" fill-opacity="0.6" stroke="#90e0b0" stroke-width="1.2"/>
<line x1="91.425" y1="106.9" x2="95.825" y2="106.9" stroke="#e8e8e8" stroke-width="1.8" stroke-opacity="0.9" stroke-dasharray="4.4 0"/>
<line x1="91.425" y1="411.9" x2="95.825" y2="411.9" stroke="#e8e8e8" stroke-width="1.8" stroke-opacity="0.9" stroke-dasharray="4.4 0"/>
<line x1="145.625" y1="106.9" x2="150.025" y2="106.9" stroke="#e8e8e8" stroke-width="1.8" stroke-opacity="0.9" stroke-dasharray="4.4 0"/>
<line x1="145.625" y1="411.9" x2="150.025" y2="411.9" stroke="#e8e8e8" stroke-width="1.8" stroke-opacity="0.9" stroke-dasharray="4.4 0"/>
<line x1="213.75" y1="106.9" x2="218.15" y2="106.9" stroke="#e8e8e8" stroke-width="1.8" stroke-opacity="0.9" stroke-dasharray="4.4 0"/>
<line x1="213.75" y1="411.9" x2="218.15" y2="411.9" stroke="#e8e8e8" stroke-width="1.8" stroke-opacity="0.9" stroke-dasharray="4.4 0"/>
<line x1="281.55" y1="106.9" x2="285.95" y2="106.9" stroke="#e8e8e8" stroke-width="1.8" stroke-opacity="0.9" stroke-dasharray="4.4 0"/>
<line x1="281.55" y1="411.9" x2="285.95" y2="411.9" stroke="#e8e8e8" stroke-width="1.8" stroke-opacity="0.9" stroke-dasharray="4.4 0"/>
<line x1="349.3" y1="106.9" x2="353.7" y2="106.9" stroke="#e8e8e8" stroke-width="1.8" stroke-opacity="0.9" stroke-dasharray="4.4 0"/>
<line x1="349.3" y1="411.9" x2="353.7" y2="411.9" stroke="#e8e8e8" stroke-width="1.8" stroke-opacity="0.9" stroke-dasharray="4.4 0"/>
<line x1="417.05" y1="106.9" x2="421.45" y2="106.9" stroke="#e8e8e8" stroke-width="1.8" stroke-opacity="0.9" stroke-dasharray="4.4 0"/>
<line x1="417.05" y1="411.9" x2="421.45" y2="411.9" stroke="#e8e8e8" stroke-width="1.8" stroke-opacity="0.9" stroke-dasharray="4.4 0"/>
<line x1="484.8" y1="106.9" x2="489.2" y2="106.9" stroke="#e8e8e8" stroke-width="1.8" stroke-opacity="0.9" stroke-dasharray="4.4 0"/>
<line x1="484.8" y1="411.9" x2="489.2" y2="411.9" stroke="#e8e8e8" stroke-width="1.8" stroke-opacity="0.9" stroke-dasharray="4.4 0"/>
<line x1="294" y1="101.2" x2="301" y2="101.2" stroke="#e8e8e8" stroke-width="2.2" stroke-opacity="0.9" stroke-dasharray="1.8 0.5"/>
<line x1="294" y1="417.9" x2="301" y2="417.9" stroke="#e8e8e8" stroke-width="2.2" stroke-opacity="0.9" stroke-dasharray="1.8 0.5"/>
<line x1="46.4" y1="155.1" x2="46.4" y2="159.9" stroke="#e8e8e8" stroke-width="1.7" stroke-opacity="0.9" stroke-dasharray="none"/>
<line x1="545.4" y1="155.1" x2="545.4" y2="159.9" stroke="#e8e8e8" stroke-width="1.7" stroke-opacity="0.9" stroke-dasharray="none"/>
<line x1="46.4" y1="200.1" x2="46.4" y2="204.9" stroke="#e8e8e8" stroke-width="1.7" stroke-opacity="0.9" stroke-dasharray="none"/>
<line x1="545.4" y1="200.1" x2="545.4" y2="204.9" stroke="#e8e8e8" stroke-width="1.7" stroke-opacity="0.9" stroke-dasharray="none"/>
<line x1="46.4" y1="256.1" x2="46.4" y2="260.90000000000003" stroke="#e8e8e8" stroke-width="1.7" stroke-opacity="0.9" stroke-dasharray="none"/>
<line x1="545.4" y1="256.1" x2="545.4" y2="260.90000000000003" stroke="#e8e8e8" stroke-width="1.7" stroke-opacity="0.9" stroke-dasharray="none"/>
<line x1="46.4" y1="304.6" x2="46.4" y2="309.40000000000003" stroke="#e8e8e8" stroke-width="1.7" stroke-opacity="0.9" stroke-dasharray="none"/>
<line x1="545.4" y1="304.6" x2="545.4" y2="309.40000000000003" stroke="#e8e8e8" stroke-width="1.7" stroke-opacity="0.9" stroke-dasharray="none"/>
<line x1="46.4" y1="323.20000000000005" x2="46.4" y2="328.00000000000006" stroke="#e8e8e8" stroke-width="1.7" stroke-opacity="0.9" stroke-dasharray="none"/>
<line x1="545.4" y1="323.20000000000005" x2="545.4" y2="328.00000000000006" stroke="#e8e8e8" stroke-width="1.7" stroke-opacity="0.9" stroke-dasharray="none"/>
<line x1="46.4" y1="357.6" x2="46.4" y2="362.40000000000003" stroke="#e8e8e8" stroke-width="1.7" stroke-opacity="0.9" stroke-dasharray="none"/>
<line x1="545.4" y1="357.6" x2="545.4" y2="362.40000000000003" stroke="#e8e8e8" stroke-width="1.7" stroke-opacity="0.9" stroke-dasharray="none"/>
<line x1="46.4" y1="392.0" x2="46.4" y2="396.8" stroke="#e8e8e8" stroke-width="1.7" stroke-opacity="0.9" stroke-dasharray="none"/>
<line x1="545.4" y1="392.0" x2="545.4" y2="396.8" stroke="#e8e8e8" stroke-width="1.7" stroke-opacity="0.9" stroke-dasharray="none"/>
<line x1="40.6" y1="263.5" x2="40.6" y2="268.5" stroke="#e8e8e8" stroke-width="1.8" stroke-opacity="0.9" stroke-dasharray="none"/>
<line x1="551.4" y1="263.5" x2="551.4" y2="268.5" stroke="#e8e8e8" stroke-width="1.8" stroke-opacity="0.9" stroke-dasharray="none"/>
<line x1="193.5" y1="155" x2="199.0" y2="155" stroke="#e8e8e8" stroke-width="1.8" stroke-opacity="0.9" stroke-dasharray="1.2 0.5"/>
<line x1="227.5" y1="155" x2="233.0" y2="155" stroke="#e8e8e8" stroke-width="1.8" stroke-opacity="0.9" stroke-dasharray="1.2 0.5"/>
<line x1="193.5" y1="172.9" x2="199.0" y2="172.9" stroke="#e8e8e8" stroke-width="1.8" stroke-opacity="0.9" stroke-dasharray="1.2 0.5"/>
<line x1="227.5" y1="172.9" x2="233.0" y2="172.9" stroke="#e8e8e8" stroke-width="1.8" stroke-opacity="0.9" stroke-dasharray="1.2 0.5"/>
<line x1="193.5" y1="195.9" x2="199.0" y2="195.9" stroke="#e8e8e8" stroke-width="1.8" stroke-opacity="0.9" stroke-dasharray="1.2 0.5"/>
<line x1="227.5" y1="195.9" x2="233.0" y2="195.9" stroke="#e8e8e8" stroke-width="1.8" stroke-opacity="0.9" stroke-dasharray="1.2 0.5"/>
<line x1="193.5" y1="216.25" x2="199.0" y2="216.25" stroke="#e8e8e8" stroke-width="1.8" stroke-opacity="0.9" stroke-dasharray="1.2 0.5"/>
<line x1="227.5" y1="216.25" x2="233.0" y2="216.25" stroke="#e8e8e8" stroke-width="1.8" stroke-opacity="0.9" stroke-dasharray="1.2 0.5"/>
<line x1="459.5" y1="232.5" x2="464.5" y2="232.5" stroke="#e8e8e8" stroke-width="1.6" stroke-opacity="0.9" stroke-dasharray="1.2 0.5"/>
<line x1="459.5" y1="248.8" x2="464.5" y2="248.8" stroke="#e8e8e8" stroke-width="1.6" stroke-opacity="0.9" stroke-dasharray="1.2 0.5"/>
<line x1="459.5" y1="269" x2="464.5" y2="269" stroke="#e8e8e8" stroke-width="1.6" stroke-opacity="0.9" stroke-dasharray="1.2 0.5"/>
<line x1="459.5" y1="283.8" x2="464.5" y2="283.8" stroke="#e8e8e8" stroke-width="1.6" stroke-opacity="0.9" stroke-dasharray="1.2 0.5"/>
<rect x="88.7" y="356.5" width="4.8" height="2.6" fill="#e8e8e8" transform="rotate(-57 91 358)"/>
<rect x="496" y="256" width="4.5" height="2" fill="#e8e8e8" transform="rotate(-59 498 257)"/>
<line x1="220.5" y1="158" x2="220.5" y2="163" stroke="#e8e8e8" stroke-width="1.8" />
<line x1="221" y1="163" x2="221" y2="172" stroke="#c03030" stroke-width="1.0" />
<line x1="223" y1="160" x2="223" y2="163" stroke="#40c040" stroke-width="1.0" />
<line x1="595" y1="124.5" x2="713.5" y2="124.5" stroke="#d8d8d8" stroke-width="1.0" />
<line x1="595.2" y1="108.5" x2="595.2" y2="124.5" stroke="#d8d8d8" stroke-width="0.9" />
<line x1="595.2" y1="108.5" x2="602" y2="108.5" stroke="#d8d8d8" stroke-width="0.9" />
<polyline points="613.5,124.5 617.5,110 621.5,110 625.5,124.5" fill="none" stroke="#d8d8d8" stroke-width="1.2"/>
<circle cx="619.5" cy="110.5" r="1.3" stroke="#d8d8d8" stroke-width="0.8" fill="#d8d8d8"/>
<circle cx="614.0" cy="121" r="1.2" stroke="#d8d8d8" stroke-width="0.8" fill="#d8d8d8"/>
<circle cx="625.0" cy="121" r="1.2" stroke="#d8d8d8" stroke-width="0.8" fill="#d8d8d8"/>
<polyline points="651,124.5 655,110 659,110 663,124.5" fill="none" stroke="#d8d8d8" stroke-width="1.2"/>
<circle cx="657" cy="110.5" r="1.3" stroke="#d8d8d8" stroke-width="0.8" fill="#d8d8d8"/>
<circle cx="651.5" cy="121" r="1.2" stroke="#d8d8d8" stroke-width="0.8" fill="#d8d8d8"/>
<circle cx="662.5" cy="121" r="1.2" stroke="#d8d8d8" stroke-width="0.8" fill="#d8d8d8"/>
<polyline points="689,124.5 693,110 697,110 701,124.5" fill="none" stroke="#d8d8d8" stroke-width="1.2"/>
<circle cx="695" cy="110.5" r="1.3" stroke="#d8d8d8" stroke-width="0.8" fill="#d8d8d8"/>
<circle cx="689.5" cy="121" r="1.2" stroke="#d8d8d8" stroke-width="0.8" fill="#d8d8d8"/>
<circle cx="700.5" cy="121" r="1.2" stroke="#d8d8d8" stroke-width="0.8" fill="#d8d8d8"/>
<line x1="600" y1="133.5" x2="714" y2="133.5" stroke="#d8d8d8" stroke-width="1.0" />
<line x1="600" y1="140.5" x2="714" y2="140.5" stroke="#d8d8d8" stroke-width="1.0" />
<line x1="600" y1="129" x2="600" y2="141" stroke="#d8d8d8" stroke-width="0.9" />
<line x1="714" y1="129" x2="714" y2="141" stroke="#d8d8d8" stroke-width="0.9" />
<line x1="619.5" y1="130" x2="619.5" y2="137" stroke="#d8d8d8" stroke-width="0.8" />
<line x1="657" y1="130" x2="657" y2="137" stroke="#d8d8d8" stroke-width="0.8" />
<line x1="695.5" y1="130" x2="695.5" y2="137" stroke="#d8d8d8" stroke-width="0.8" />
<line x1="606" y1="130.5" x2="611" y2="130.5" stroke="#d8d8d8" stroke-width="1.8" stroke-opacity="0.9" stroke-dasharray="1.2 0.5"/>
<line x1="636" y1="130.5" x2="642" y2="130.5" stroke="#d8d8d8" stroke-width="1.8" stroke-opacity="0.9" stroke-dasharray="1.2 0.5"/>
<line x1="673" y1="130.5" x2="678" y2="130.5" stroke="#d8d8d8" stroke-width="1.8" stroke-opacity="0.9" stroke-dasharray="1.2 0.5"/>
<line x1="702" y1="130.5" x2="708" y2="130.5" stroke="#d8d8d8" stroke-width="1.8" stroke-opacity="0.9" stroke-dasharray="1.2 0.5"/>
<line x1="655" y1="137.5" x2="660" y2="137.5" stroke="#d8d8d8" stroke-width="1.8" stroke-opacity="0.9" stroke-dasharray="1.2 0.5"/>
<line x1="590.5" y1="116" x2="593.5" y2="116" stroke="#d8d8d8" stroke-width="2.0" stroke-opacity="0.9" stroke-dasharray="1.2 0.5"/>
<line x1="683" y1="102.6" x2="691" y2="102.6" stroke="#d8d8d8" stroke-width="2.8" stroke-opacity="0.9" stroke-dasharray="2.5 0.4"/>
<polyline points="683,104 692,104 695,110" fill="none" stroke="#d8d8d8" stroke-width="0.8"/>
<line x1="675" y1="109.6" x2="683" y2="109.6" stroke="#d8d8d8" stroke-width="2.8" stroke-opacity="0.9" stroke-dasharray="2.5 0.4"/>
<polyline points="675,112 682,112 689,123" fill="none" stroke="#d8d8d8" stroke-width="0.8"/>
<line x1="667" y1="115.6" x2="675" y2="115.6" stroke="#d8d8d8" stroke-width="2.8" stroke-opacity="0.9" stroke-dasharray="2.5 0.4"/>
<polyline points="667,117 680,117 683,124" fill="none" stroke="#d8d8d8" stroke-width="0.8"/>
<line x1="700.5" y1="109.6" x2="708.5" y2="109.6" stroke="#d8d8d8" stroke-width="2.8" stroke-opacity="0.9" stroke-dasharray="2.5 0.4"/>
<polyline points="700,112 712,112" fill="none" stroke="#d8d8d8" stroke-width="0.8"/>
<line x1="647" y1="144" x2="660" y2="144" stroke="#d8d8d8" stroke-width="2.6" stroke-opacity="1.0" stroke-dasharray="2 0.6"/>
<line x1="641" y1="149" x2="667" y2="149" stroke="#d8d8d8" stroke-width="0.9" />
<line x1="644.5" y1="156.8" x2="664.0" y2="156.8" stroke="#d8d8d8" stroke-width="2.8" stroke-opacity="0.9" stroke-dasharray="2.4 0.4"/>
<rect x="600.2" y="160.8" width="109.5" height="16.5" stroke="#d8d8d8" stroke-width="0.9" fill="none"/>
<line x1="600.2" y1="171.4" x2="709.7" y2="171.4" stroke="#d8d8d8" stroke-width="0.8" />
<line x1="623.5" y1="160.8" x2="623.5" y2="177.3" stroke="#d8d8d8" stroke-width="0.8" />
<line x1="634.7" y1="160.8" x2="634.7" y2="177.3" stroke="#d8d8d8" stroke-width="0.8" />
<line x1="648.2" y1="160.8" x2="648.2" y2="177.3" stroke="#d8d8d8" stroke-width="0.8" />
<line x1="664" y1="160.8" x2="664" y2="177.3" stroke="#d8d8d8" stroke-width="0.8" />
<line x1="671.5" y1="160.8" x2="671.5" y2="177.3" stroke="#d8d8d8" stroke-width="0.8" />
<line x1="691" y1="167" x2="691" y2="177.3" stroke="#d8d8d8" stroke-width="0.8" />
<line x1="671.5" y1="167" x2="709.7" y2="167" stroke="#d8d8d8" stroke-width="0.8" />
<line x1="600.2" y1="160.8" x2="623.5" y2="171.4" stroke="#d8d8d8" stroke-width="0.6" />
<line x1="626" y1="166.2" x2="631" y2="166.2" stroke="#d8d8d8" stroke-width="2.8" stroke-opacity="0.9" stroke-dasharray="2.2 0.5"/>
<line x1="638" y1="166.2" x2="644" y2="166.2" stroke="#d8d8d8" stroke-width="2.8" stroke-opacity="0.9" stroke-dasharray="2.2 0.5"/>
<line x1="650" y1="166.2" x2="658" y2="166.2" stroke="#d8d8d8" stroke-width="2.8" stroke-opacity="0.9" stroke-dasharray="2.2 0.5"/>
<line x1="667" y1="166.2" x2="669" y2="166.2" stroke="#d8d8d8" stroke-width="2.8" stroke-opacity="0.9" stroke-dasharray="2.2 0.5"/>
<line x1="673" y1="163.5" x2="701" y2="163.5" stroke="#d8d8d8" stroke-width="2.4" stroke-opacity="0.9" stroke-dasharray="2 0.5"/>
<line x1="677" y1="169.2" x2="682" y2="169.2" stroke="#d8d8d8" stroke-width="2.4" stroke-opacity="0.9" stroke-dasharray="2 0.5"/>
<line x1="695" y1="169.2" x2="700" y2="169.2" stroke="#d8d8d8" stroke-width="2.4" stroke-opacity="0.9" stroke-dasharray="2 0.5"/>
<line x1="601" y1="169" x2="608" y2="169" stroke="#d8d8d8" stroke-width="2.4" stroke-opacity="0.9" stroke-dasharray="2 0.5"/>
<line x1="613" y1="163.5" x2="619" y2="163.5" stroke="#d8d8d8" stroke-width="2.6" stroke-opacity="0.9" stroke-dasharray="2 0.5"/>
<line x1="603" y1="174.3" x2="611" y2="174.3" stroke="#d8d8d8" stroke-width="2.2" stroke-opacity="0.9" stroke-dasharray="2 0.4"/>
<line x1="627.5" y1="174.3" x2="629.5" y2="174.3" stroke="#d8d8d8" stroke-width="2.2" stroke-opacity="0.9" stroke-dasharray="2 0.4"/>
<line x1="640" y1="174.3" x2="642" y2="174.3" stroke="#d8d8d8" stroke-width="2.2" stroke-opacity="0.9" stroke-dasharray="2 0.4"/>
<line x1="653" y1="174.3" x2="657" y2="174.3" stroke="#d8d8d8" stroke-width="2.2" stroke-opacity="0.9" stroke-dasharray="2 0.4"/>
<line x1="666" y1="174.3" x2="669" y2="174.3" stroke="#d8d8d8" stroke-width="2.2" stroke-opacity="0.9" stroke-dasharray="2 0.4"/>
<line x1="676" y1="174.3" x2="681" y2="174.3" stroke="#d8d8d8" stroke-width="2.2" stroke-opacity="0.9" stroke-dasharray="2 0.4"/>
<line x1="694" y1="174.3" x2="700" y2="174.3" stroke="#d8d8d8" stroke-width="2.2" stroke-opacity="0.9" stroke-dasharray="2 0.4"/>
<line x1="600.6" y1="180.8" x2="656.6" y2="180.8" stroke="#d8d8d8" stroke-width="2.4" stroke-opacity="0.8" stroke-dasharray="2.2 0.6 1.5 0.5"/>
<line x1="605" y1="185.5" x2="677" y2="185.5" stroke="#d8d8d8" stroke-width="2.4" stroke-opacity="0.8" stroke-dasharray="2.2 0.6 1.5 0.5"/>
<line x1="605" y1="190.2" x2="654" y2="190.2" stroke="#d8d8d8" stroke-width="2.4" stroke-opacity="0.8" stroke-dasharray="2.2 0.6 1.5 0.5"/>
<line x1="606" y1="204.6" x2="609" y2="204.6" stroke="#d8d8d8" stroke-width="2.6" stroke-opacity="0.95" stroke-dasharray="3 0"/>
<line x1="647" y1="214.6" x2="682" y2="214.6" stroke="#d8d8d8" stroke-width="2.3" stroke-opacity="0.85" stroke-dasharray="1.4 0.7 2.2 0.5 1.8 0.6 2.0 0.4"/>
<line x1="606" y1="209.75" x2="690" y2="209.75" stroke="#d8d8d8" stroke-width="2.3" stroke-opacity="0.85" stroke-dasharray="1.4 0.7 2.2 0.5 1.8 0.6 2.0 0.4"/>
<line x1="606" y1="214.6" x2="636" y2="214.6" stroke="#d8d8d8" stroke-width="2.3" stroke-opacity="0.85" stroke-dasharray="1.4 0.7 2.2 0.5 1.8 0.6 2.0 0.4"/>
<line x1="606" y1="219.3" x2="693" y2="219.3" stroke="#e02020" stroke-width="2.3" stroke-opacity="0.85" stroke-dasharray="1.4 0.7 2.2 0.5 1.8 0.6 2.0 0.4"/>
<line x1="606" y1="223.9" x2="688" y2="223.9" stroke="#d8d8d8" stroke-width="2.3" stroke-opacity="0.85" stroke-dasharray="1.4 0.7 2.2 0.5 1.8 0.6 2.0 0.4"/>
<line x1="606" y1="228.4" x2="683" y2="228.4" stroke="#d8d8d8" stroke-width="2.3" stroke-opacity="0.85" stroke-dasharray="1.4 0.7 2.2 0.5 1.8 0.6 2.0 0.4"/>
<line x1="606" y1="232.5" x2="680" y2="232.5" stroke="#d8d8d8" stroke-width="2.3" stroke-opacity="0.85" stroke-dasharray="1.4 0.7 2.2 0.5 1.8 0.6 2.0 0.4"/>
<line x1="606" y1="236.8" x2="661" y2="236.8" stroke="#d8d8d8" stroke-width="2.3" stroke-opacity="0.85" stroke-dasharray="1.4 0.7 2.2 0.5 1.8 0.6 2.0 0.4"/>
<line x1="606" y1="241" x2="666" y2="241" stroke="#d8d8d8" stroke-width="2.3" stroke-opacity="0.85" stroke-dasharray="1.4 0.7 2.2 0.5 1.8 0.6 2.0 0.4"/>
<line x1="606" y1="245" x2="628" y2="245" stroke="#d8d8d8" stroke-width="2.3" stroke-opacity="0.85" stroke-dasharray="1.4 0.7 2.2 0.5 1.8 0.6 2.0 0.4"/>
<line x1="739" y1="80.3" x2="739" y2="512.5" stroke="#2fa898" stroke-width="1.4" />
<line x1="739" y1="94.5" x2="788" y2="94.5" stroke="#2fa898" stroke-width="0.95" />
<line x1="739" y1="100.3" x2="788" y2="100.3" stroke="#2fa898" stroke-width="0.95" />
<line x1="739" y1="118.4" x2="788" y2="118.4" stroke="#2fa898" stroke-width="0.95" />
<line x1="739" y1="122.4" x2="788" y2="122.4" stroke="#2fa898" stroke-width="0.95" />
<line x1="739" y1="126" x2="788" y2="126" stroke="#2fa898" stroke-width="0.95" />
<line x1="739" y1="129.7" x2="788" y2="129.7" stroke="#2fa898" stroke-width="0.95" />
<line x1="739" y1="133.5" x2="788" y2="133.5" stroke="#2fa898" stroke-width="0.95" />
<line x1="739" y1="137.2" x2="788" y2="137.2" stroke="#2fa898" stroke-width="0.95" />
<line x1="739" y1="141" x2="788" y2="141" stroke="#2fa898" stroke-width="0.95" />
<line x1="739" y1="144.7" x2="788" y2="144.7" stroke="#2fa898" stroke-width="0.95" />
<line x1="739" y1="148.5" x2="788" y2="148.5" stroke="#2fa898" stroke-width="0.95" />
<line x1="739" y1="152.4" x2="788" y2="152.4" stroke="#2fa898" stroke-width="0.95" />
<line x1="739" y1="174.8" x2="788" y2="174.8" stroke="#2fa898" stroke-width="0.95" />
<line x1="739" y1="310.8" x2="788" y2="310.8" stroke="#2fa898" stroke-width="0.95" />
<line x1="739" y1="340.8" x2="788" y2="340.8" stroke="#2fa898" stroke-width="0.95" />
<line x1="739" y1="370.8" x2="788" y2="370.8" stroke="#2fa898" stroke-width="0.95" />
<line x1="739" y1="401.2" x2="788" y2="401.2" stroke="#2fa898" stroke-width="0.95" />
<line x1="739" y1="431.4" x2="788" y2="431.4" stroke="#2fa898" stroke-width="0.95" />
<line x1="739" y1="440.4" x2="788" y2="440.4" stroke="#2fa898" stroke-width="0.95" />
<line x1="739" y1="449.1" x2="788" y2="449.1" stroke="#2fa898" stroke-width="0.95" />
<line x1="739" y1="454.2" x2="788" y2="454.2" stroke="#2fa898" stroke-width="0.95" />
<line x1="739" y1="458.5" x2="788" y2="458.5" stroke="#2fa898" stroke-width="0.95" />
<line x1="739" y1="462.9" x2="788" y2="462.9" stroke="#2fa898" stroke-width="0.95" />
<line x1="739" y1="467.5" x2="788" y2="467.5" stroke="#2fa898" stroke-width="0.95" />
<line x1="739" y1="472.1" x2="788" y2="472.1" stroke="#2fa898" stroke-width="0.95" />
<line x1="739" y1="476.7" x2="788" y2="476.7" stroke="#2fa898" stroke-width="0.95" />
<line x1="739" y1="485.4" x2="788" y2="485.4" stroke="#2fa898" stroke-width="0.95" />
<line x1="739" y1="494.2" x2="788" y2="494.2" stroke="#2fa898" stroke-width="0.95" />
<line x1="739" y1="498.75" x2="788" y2="498.75" stroke="#2fa898" stroke-width="0.95" />
<line x1="739" y1="481.25" x2="788" y2="481.25" stroke="#2fa898" stroke-width="1.0" />
<line x1="739" y1="503.3" x2="763.5" y2="503.3" stroke="#2fa898" stroke-width="1.0" />
<line x1="775.6" y1="503.3" x2="788" y2="503.3" stroke="#2fa898" stroke-width="1.0" />
<line x1="739" y1="508.3" x2="763.5" y2="508.3" stroke="#2fa898" stroke-width="1.0" />
<line x1="756" y1="122.4" x2="756" y2="152.4" stroke="#2fa898" stroke-width="1.0" />
<line x1="771.5" y1="122.4" x2="771.5" y2="152.4" stroke="#2fa898" stroke-width="1.0" />
<line x1="753" y1="431.4" x2="753" y2="512.5" stroke="#2fa898" stroke-width="1.0" />
<line x1="770" y1="449.1" x2="770" y2="485.4" stroke="#2fa898" stroke-width="1.0" />
<line x1="763.5" y1="498.75" x2="763.5" y2="512.5" stroke="#2fa898" stroke-width="1.0" />
<line x1="775.6" y1="498.75" x2="775.6" y2="512.5" stroke="#2fa898" stroke-width="1.0" />
<rect x="741" y="83.5" width="5" height="5" fill="#2030a0"/>
<rect x="742.8" y="84.2" width="1.6" height="3.8" fill="#f0e0a0"/>
<line x1="747" y1="86.2" x2="769" y2="86.2" stroke="#40e0d0" stroke-width="2.6" stroke-opacity="0.9" stroke-dasharray="2.2 0.4 1.4 0.6 2.4 0.5"/>
<line x1="740" y1="91" x2="787" y2="91" stroke="#a0e8e0" stroke-width="1.8" stroke-opacity="0.8" stroke-dasharray="2 0.5 1.2 0.7 2.4 0.4 1.6 0.6"/>
<line x1="740" y1="98" x2="747" y2="98" stroke="#40e0d0" stroke-width="2.2" stroke-opacity="0.75" stroke-dasharray="2 0.5 1.2 0.7 2.4 0.4 1.6 0.6"/>
<line x1="751" y1="98" x2="760" y2="98" stroke="#40e0d0" stroke-width="2.2" stroke-opacity="0.75" stroke-dasharray="2 0.5 1.2 0.7 2.4 0.4 1.6 0.6"/>
<line x1="765" y1="98" x2="772" y2="98" stroke="#40e0d0" stroke-width="2.2" stroke-opacity="0.75" stroke-dasharray="2 0.5 1.2 0.7 2.4 0.4 1.6 0.6"/>
<line x1="775" y1="98" x2="786" y2="98" stroke="#40e0d0" stroke-width="2.2" stroke-opacity="0.75" stroke-dasharray="2 0.5 1.2 0.7 2.4 0.4 1.6 0.6"/>
<line x1="740" y1="102.2" x2="765" y2="102.2" stroke="#40e0d0" stroke-width="2.0" stroke-opacity="0.85" stroke-dasharray="2 0.5 1.2 0.7 2.4 0.4 1.6 0.6"/>
<line x1="745" y1="105" x2="754" y2="105" stroke="#40e0d0" stroke-width="2.0" stroke-opacity="0.85" stroke-dasharray="2 0.5 1.2 0.7 2.4 0.4 1.6 0.6"/>
<line x1="740" y1="108" x2="773" y2="108" stroke="#40e0d0" stroke-width="2.0" stroke-opacity="0.85" stroke-dasharray="2 0.5 1.2 0.7 2.4 0.4 1.6 0.6"/>
<line x1="747" y1="111" x2="767" y2="111" stroke="#40e0d0" stroke-width="2.0" stroke-opacity="0.85" stroke-dasharray="2 0.5 1.2 0.7 2.4 0.4 1.6 0.6"/>
<line x1="754" y1="114" x2="770" y2="114" stroke="#40e0d0" stroke-width="2.0" stroke-opacity="0.85" stroke-dasharray="2 0.5 1.2 0.7 2.4 0.4 1.6 0.6"/>
<line x1="740" y1="117.5" x2="757" y2="117.5" stroke="#40e0d0" stroke-width="2.0" stroke-opacity="0.85" stroke-dasharray="2 0.5 1.2 0.7 2.4 0.4 1.6 0.6"/>
<line x1="758" y1="120.4" x2="767" y2="120.4" stroke="#40e0d0" stroke-width="1.4" stroke-opacity="0.8" stroke-dasharray="1 2"/>
<line x1="744" y1="124.2" x2="748" y2="124.2" stroke="#40e0d0" stroke-width="1.6" stroke-opacity="0.8" stroke-dasharray="1 2"/>
<line x1="744" y1="127.9" x2="748" y2="127.9" stroke="#40e0d0" stroke-width="1.6" stroke-opacity="0.8" stroke-dasharray="1 2"/>
<line x1="744" y1="131.6" x2="748" y2="131.6" stroke="#40e0d0" stroke-width="1.6" stroke-opacity="0.8" stroke-dasharray="1 2"/>
<line x1="744" y1="135.4" x2="748" y2="135.4" stroke="#40e0d0" stroke-width="1.6" stroke-opacity="0.8" stroke-dasharray="1 2"/>
<line x1="744" y1="139.1" x2="748" y2="139.1" stroke="#40e0d0" stroke-width="1.6" stroke-opacity="0.8" stroke-dasharray="1 2"/>
<line x1="744" y1="142.9" x2="748" y2="142.9" stroke="#40e0d0" stroke-width="1.6" stroke-opacity="0.8" stroke-dasharray="1 2"/>
<line x1="744" y1="146.6" x2="748" y2="146.6" stroke="#40e0d0" stroke-width="1.6" stroke-opacity="0.8" stroke-dasharray="1 2"/>
<line x1="744" y1="150.4" x2="748" y2="150.4" stroke="#40e0d0" stroke-width="1.6" stroke-opacity="0.8" stroke-dasharray="1 2"/>
<line x1="741" y1="156" x2="761" y2="156" stroke="#40e0d0" stroke-width="2.0" stroke-opacity="0.85" stroke-dasharray="2 0.5 1.2 0.7 2.4 0.4 1.6 0.6"/>
<line x1="741" y1="160" x2="763" y2="160" stroke="#40e0d0" stroke-width="2.0" stroke-opacity="0.85" stroke-dasharray="2 0.5 1.2 0.7 2.4 0.4 1.6 0.6"/>
<line x1="741" y1="164" x2="762" y2="164" stroke="#40e0d0" stroke-width="2.0" stroke-opacity="0.85" stroke-dasharray="2 0.5 1.2 0.7 2.4 0.4 1.6 0.6"/>
<line x1="741" y1="168" x2="762" y2="168" stroke="#40e0d0" stroke-width="2.0" stroke-opacity="0.85" stroke-dasharray="2 0.5 1.2 0.7 2.4 0.4 1.6 0.6"/>
<line x1="741" y1="172" x2="759" y2="172" stroke="#40e0d0" stroke-width="2.0" stroke-opacity="0.85" stroke-dasharray="2 0.5 1.2 0.7 2.4 0.4 1.6 0.6"/>
<line x1="741" y1="177.5" x2="745" y2="177.5" stroke="#40e0d0" stroke-width="1.8" stroke-opacity="0.8" stroke-dasharray="1.2 0.5"/>
<line x1="741" y1="312.5" x2="745" y2="312.5" stroke="#40e0d0" stroke-width="1.5" stroke-opacity="0.8" stroke-dasharray="1.2 0.5"/>
<line x1="741" y1="342.5" x2="745" y2="342.5" stroke="#40e0d0" stroke-width="1.5" stroke-opacity="0.8" stroke-dasharray="1.2 0.5"/>
<line x1="741" y1="372.5" x2="745" y2="372.5" stroke="#40e0d0" stroke-width="1.5" stroke-opacity="0.8" stroke-dasharray="1.2 0.5"/>
<line x1="741" y1="403" x2="745" y2="403" stroke="#40e0d0" stroke-width="1.5" stroke-opacity="0.8" stroke-dasharray="1.2 0.5"/>
<line x1="741" y1="436" x2="746" y2="436" stroke="#40e0d0" stroke-width="2.0" stroke-opacity="0.85" stroke-dasharray="1.2 0.5"/>
<line x1="755" y1="436" x2="769" y2="436" stroke="#40e0d0" stroke-width="2.0" stroke-opacity="0.85" stroke-dasharray="1.2 0.5"/>
<line x1="741" y1="444.6" x2="746" y2="444.6" stroke="#40e0d0" stroke-width="2.0" stroke-opacity="0.85" stroke-dasharray="1.2 0.5"/>
<line x1="755" y1="444.6" x2="770" y2="444.6" stroke="#40e0d0" stroke-width="2.0" stroke-opacity="0.85" stroke-dasharray="1.2 0.5"/>
<line x1="741" y1="451.7" x2="747" y2="451.7" stroke="#40e0d0" stroke-width="1.8" stroke-opacity="0.75" stroke-dasharray="1 1.5"/>
<line x1="757" y1="451.7" x2="762" y2="451.7" stroke="#40e0d0" stroke-width="1.8" stroke-opacity="0.8" stroke-dasharray="1.2 0.5"/>
<line x1="741" y1="456.3" x2="747" y2="456.3" stroke="#40e0d0" stroke-width="1.8" stroke-opacity="0.75" stroke-dasharray="1 1.5"/>
<line x1="757" y1="456.3" x2="762" y2="456.3" stroke="#40e0d0" stroke-width="1.8" stroke-opacity="0.8" stroke-dasharray="1.2 0.5"/>
<line x1="741" y1="460.7" x2="747" y2="460.7" stroke="#40e0d0" stroke-width="1.8" stroke-opacity="0.75" stroke-dasharray="1 1.5"/>
<line x1="757" y1="460.7" x2="762" y2="460.7" stroke="#40e0d0" stroke-width="1.8" stroke-opacity="0.8" stroke-dasharray="1.2 0.5"/>
<line x1="741" y1="465.2" x2="747" y2="465.2" stroke="#40e0d0" stroke-width="1.8" stroke-opacity="0.75" stroke-dasharray="1 1.5"/>
<line x1="757" y1="465.2" x2="762" y2="465.2" stroke="#40e0d0" stroke-width="1.8" stroke-opacity="0.8" stroke-dasharray="1.2 0.5"/>
<line x1="741" y1="469.8" x2="747" y2="469.8" stroke="#40e0d0" stroke-width="1.8" stroke-opacity="0.75" stroke-dasharray="1 1.5"/>
<line x1="757" y1="469.8" x2="762" y2="469.8" stroke="#40e0d0" stroke-width="1.8" stroke-opacity="0.8" stroke-dasharray="1.2 0.5"/>
<line x1="741" y1="474.4" x2="747" y2="474.4" stroke="#40e0d0" stroke-width="1.8" stroke-opacity="0.75" stroke-dasharray="1 1.5"/>
<line x1="757" y1="474.4" x2="762" y2="474.4" stroke="#40e0d0" stroke-width="1.8" stroke-opacity="0.8" stroke-dasharray="1.2 0.5"/>
<line x1="741" y1="479" x2="747" y2="479" stroke="#40e0d0" stroke-width="1.8" stroke-opacity="0.75" stroke-dasharray="1 1.5"/>
<line x1="757" y1="479" x2="762" y2="479" stroke="#40e0d0" stroke-width="1.8" stroke-opacity="0.8" stroke-dasharray="1.2 0.5"/>
<line x1="741" y1="483.3" x2="747" y2="483.3" stroke="#40e0d0" stroke-width="1.8" stroke-opacity="0.75" stroke-dasharray="1 1.5"/>
<line x1="757" y1="483.3" x2="762" y2="483.3" stroke="#40e0d0" stroke-width="1.8" stroke-opacity="0.8" stroke-dasharray="1.2 0.5"/>
<line x1="772" y1="451.8" x2="785" y2="451.8" stroke="#d83030" stroke-width="2.6" stroke-opacity="0.9" stroke-dasharray="2.5 0.4"/>
<line x1="773" y1="456.2" x2="785" y2="456.2" stroke="#d83030" stroke-width="2.6" stroke-opacity="0.9" stroke-dasharray="2.5 0.4"/>
<line x1="774" y1="460.3" x2="783" y2="460.3" stroke="#c83030" stroke-width="1.8" stroke-opacity="0.8" stroke-dasharray="2 0.5"/>
<line x1="776" y1="465.2" x2="780" y2="465.2" stroke="#40e0d0" stroke-width="2.2" stroke-opacity="0.7" stroke-dasharray="1.2 0.5"/>
<line x1="775" y1="469.5" x2="781" y2="469.5" stroke="#40e0d0" stroke-width="2.2" stroke-opacity="0.7" stroke-dasharray="1.2 0.5"/>
<line x1="772.5" y1="474.2" x2="784.5" y2="474.2" stroke="#e8e040" stroke-width="3.0" stroke-opacity="0.95" stroke-dasharray="3 1.2"/>
<line x1="773" y1="478.7" x2="784" y2="478.7" stroke="#40e0d0" stroke-width="2.2" stroke-opacity="0.75" stroke-dasharray="1.2 0.5"/>
<line x1="771" y1="483.2" x2="787" y2="483.2" stroke="#40e0d0" stroke-width="1.8" stroke-opacity="0.7" stroke-dasharray="1.2 0.5"/>
<line x1="741" y1="489.8" x2="746" y2="489.8" stroke="#40e0d0" stroke-width="1.8" stroke-opacity="0.8" stroke-dasharray="1 2"/>
<line x1="757" y1="489.8" x2="768" y2="489.8" stroke="#e02080" stroke-width="2.6" stroke-opacity="0.9" stroke-dasharray="2 0.3"/>
<line x1="741" y1="496.5" x2="746" y2="496.5" stroke="#40e0d0" stroke-width="1.6" stroke-opacity="0.8" stroke-dasharray="1.2 0.5"/>
<line x1="755" y1="496.5" x2="763" y2="496.5" stroke="#40e0d0" stroke-width="1.6" stroke-opacity="0.8" stroke-dasharray="1.2 0.5"/>
<line x1="741" y1="501" x2="746" y2="501" stroke="#40e0d0" stroke-width="1.8" stroke-opacity="0.8" stroke-dasharray="1.2 0.5"/>
<line x1="755" y1="501" x2="759" y2="501" stroke="#40e0d0" stroke-width="1.8" stroke-opacity="0.8" stroke-dasharray="1.2 0.5"/>
<line x1="765" y1="501" x2="773" y2="501" stroke="#40e0d0" stroke-width="1.6" stroke-opacity="0.7" stroke-dasharray="1 3"/>
<line x1="779" y1="501" x2="782" y2="501" stroke="#40e0d0" stroke-width="1.6" stroke-opacity="0.7" stroke-dasharray="1.2 0.5"/>
<line x1="741" y1="506" x2="746" y2="506" stroke="#40e0d0" stroke-width="1.8" stroke-opacity="0.8" stroke-dasharray="1 2"/>
<line x1="755" y1="506" x2="759" y2="506" stroke="#40e0d0" stroke-width="1.8" stroke-opacity="0.8" stroke-dasharray="1.2 0.5"/>
<line x1="765" y1="507" x2="771" y2="507" stroke="#40e0d0" stroke-width="1.8" stroke-opacity="0.7" stroke-dasharray="1 3"/>
<line x1="777" y1="506" x2="785" y2="506" stroke="#40e0d0" stroke-width="1.8" stroke-opacity="0.7" stroke-dasharray="1 3"/>
<line x1="741" y1="510.5" x2="746" y2="510.5" stroke="#40e0d0" stroke-width="1.8" stroke-opacity="0.8" stroke-dasharray="1 2"/>
<line x1="755" y1="510.5" x2="762" y2="510.5" stroke="#40e0d0" stroke-width="1.8" stroke-opacity="0.8" stroke-dasharray="1.2 0.5"/>
<line x1="777" y1="510.5" x2="785" y2="510.5" stroke="#40e0d0" stroke-width="1.8" stroke-opacity="0.8" stroke-dasharray="1.2 0.5"/>
<line x1="254.8" y1="441.1" x2="286.8" y2="441.1" stroke="#b82070" stroke-width="6.2" stroke-opacity="0.75" stroke-dasharray="3.6 0.9"/>
<line x1="254.8" y1="441.1" x2="286.8" y2="441.1" stroke="#e040a0" stroke-width="2.0" stroke-opacity="0.6" stroke-dasharray="1 3.5"/>
<line x1="254.2" y1="447" x2="298" y2="447" stroke="#e8e8e8" stroke-width="1.6" />
<line x1="303" y1="441" x2="310" y2="441" stroke="#e8e8e8" stroke-width="3" stroke-opacity="0.9" stroke-dasharray="2 0.6"/>
</svg></body></html>
